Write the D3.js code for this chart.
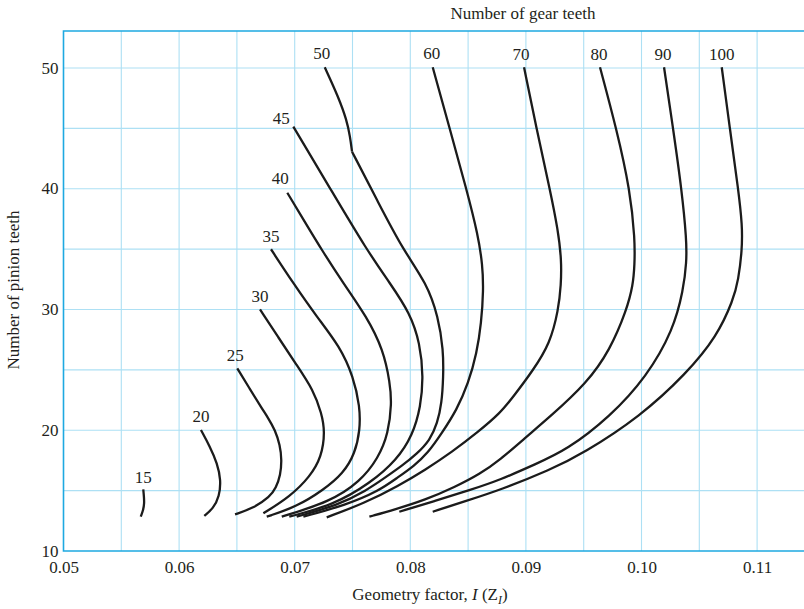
<!DOCTYPE html>
<html><head><meta charset="utf-8">
<script src="https://cdn.jsdelivr.net/npm/d3@7"></script>
<style>
html,body{margin:0;padding:0;background:#fff;}
svg{display:block;font-family:"Liberation Serif","DejaVu Serif",serif;}
</style></head><body>
<svg id="chart" width="804" height="609"></svg>
<script>
// ---------- data (geometry factor I, number of pinion teeth) ----------
const gearTeeth = [15, 20, 25, 30, 35, 40, 45, 50, 60, 70, 80, 90, 100];
const xTicks = [0.05, 0.06, 0.07, 0.08, 0.09, 0.10, 0.11];
const yTicks = [10, 20, 30, 40, 50];

const g15 = [[0.05690,15.11],[0.05696,14.50],[0.05699,13.95],[0.05690,13.40],[0.05668,12.84]];
const g20 = [[0.06189,20.02],[0.06267,18.64],[0.06330,17.26],[0.06362,15.88],[0.06348,14.50],[0.06296,13.54],[0.06218,12.90]];
const g25 = [[0.06503,25.13],[0.06609,23.47],[0.06715,21.82],[0.06772,20.99],[0.06830,20.02],[0.06873,18.78],[0.06888,17.54],[0.06877,16.29],[0.06838,15.22],[0.06786,14.50],[0.06642,13.54],[0.06484,13.04]];
const g30 = [[0.06700,30.01],[0.06858,27.70],[0.07017,25.40],[0.07161,23.33],[0.07233,21.40],[0.07262,19.88],[0.07233,17.81],[0.07133,16.16],[0.06959,14.50],[0.06729,13.12]];
const g35 = [[0.06795,34.99],[0.06988,32.17],[0.07190,29.41],[0.07392,26.92],[0.07507,24.44],[0.07565,21.95],[0.07565,20.02],[0.07522,18.09],[0.07421,16.43],[0.07248,15.05],[0.07017,13.67],[0.06758,12.84]];
const g40 = [[0.06936,39.67],[0.07085,37.30],[0.07234,34.93],[0.07421,32.17],[0.07623,29.40],[0.07767,26.65],[0.07825,23.89],[0.07839,22.23],[0.07810,19.75],[0.07723,17.68],[0.07565,15.74],[0.07306,14.08],[0.06888,12.84]];
const g45 = [[0.06988,45.14],[0.07306,40.04],[0.07623,34.93],[0.07825,32.17],[0.07998,29.69],[0.08084,27.20],[0.08113,24.43],[0.08090,21.95],[0.08021,19.61],[0.07883,17.54],[0.07652,15.61],[0.07334,13.81],[0.06953,12.84]];
const g50a = [[0.07260,50.06],[0.07377,47.62],[0.07450,45.69],[0.07479,44.31],[0.07496,43.07]];
const g50b = [[0.07496,43.07],[0.07716,38.99],[0.07938,34.93],[0.08142,32.17],[0.08242,29.40],[0.08286,26.65],[0.08286,24.43],[0.08272,22.23],[0.08234,20.58],[0.08171,19.19],[0.08056,18.03],[0.07926,17.04],[0.07781,16.07],[0.07617,14.99],[0.07377,13.81],[0.07017,12.84]];
const g60 = [[0.08194,50.06],[0.08344,44.87],[0.08488,39.90],[0.08586,36.17],[0.08625,33.69],[0.08633,31.61],[0.08614,28.86],[0.08575,26.37],[0.08502,23.89],[0.08402,21.68],[0.08272,19.75],[0.08153,18.12],[0.08032,17.04],[0.07885,16.05],[0.07729,14.99],[0.07444,13.81],[0.07075,12.84]];
const g70 = [[0.08984,50.06],[0.09094,44.87],[0.09209,39.90],[0.09278,36.58],[0.09308,34.10],[0.09304,32.03],[0.09281,29.96],[0.09209,27.20],[0.09064,24.99],[0.08891,22.78],[0.08776,21.40],[0.08586,19.86],[0.08361,18.20],[0.08127,16.71],[0.07894,15.38],[0.07608,13.98],[0.07277,12.79]];
const g80 = [[0.09641,50.06],[0.09786,44.87],[0.09901,39.90],[0.09944,35.76],[0.09940,33.69],[0.09927,32.03],[0.09872,29.96],[0.09728,26.65],[0.09526,23.89],[0.09209,21.12],[0.08992,19.36],[0.08776,17.54],[0.08603,16.38],[0.08387,15.30],[0.08127,14.22],[0.07868,13.44],[0.07646,12.84]];
const g90 = [[0.10195,50.06],[0.10275,44.87],[0.10348,39.90],[0.10390,35.76],[0.10390,33.93],[0.10362,31.61],[0.10275,28.30],[0.10045,24.43],[0.09728,21.12],[0.09353,18.36],[0.09084,17.20],[0.08776,15.88],[0.08517,15.05],[0.08214,14.14],[0.07905,13.25]];
const g100 = [[0.10694,50.06],[0.10766,44.87],[0.10838,39.90],[0.10872,37.00],[0.10870,34.93],[0.10838,32.44],[0.10794,30.79],[0.10651,27.75],[0.10391,24.72],[0.09987,21.12],[0.09497,18.09],[0.09209,16.71],[0.08776,15.05],[0.08482,14.14],[0.08194,13.25]];

const curveSegments = [[g15],[g20],[g25],[g30],[g35],[g40],[g45],[g50a,g50b],[g60],[g70],[g80],[g90],[g100]];

// ---------- layout ----------
const W = 804, H = 609;
const svg = d3.select('#chart');
const x = d3.scaleLinear().domain([0.05, 0.11]).range([63.5, 757.1]);
const y = d3.scaleLinear().domain([10, 50]).range([551, 68]);
const yMax = y.invert(31);
const xMax = x.invert(W);
const textCol = '#231f20';
const gridCol = '#ade0f4';
const borderCol = '#1ea9e1';

// grid
const vGrid = d3.range(0.055, 0.1201, 0.005).filter(v => v < xMax);
const hGrid = d3.range(15, 51, 5);
svg.append('g').selectAll('line').data(vGrid).join('line')
  .attr('x1', d => x(d)).attr('x2', d => x(d))
  .attr('y1', y(10)).attr('y2', y(yMax))
  .attr('stroke', gridCol).attr('stroke-width', 1.1);
svg.append('g').selectAll('line').data(hGrid).join('line')
  .attr('x1', x(0.05)).attr('x2', W)
  .attr('y1', d => y(d)).attr('y2', d => y(d))
  .attr('stroke', gridCol).attr('stroke-width', 1.1);

// border
const border = svg.append('g').attr('stroke', borderCol).attr('stroke-width', 1.6).attr('fill', 'none');
border.append('path').attr('d', `M${W},${y(yMax)}H${x(0.05)}V${y(10)}H${W}`);

// axes (labels only)
const fmt = d3.format('.2f');
const ax = svg.append('g').attr('transform', `translate(0,${y(10)})`)
  .call(d3.axisBottom(x).tickValues(xTicks).tickSize(0).tickPadding(10).tickFormat(fmt));
const ay = svg.append('g').attr('transform', `translate(${x(0.05)},0)`)
  .call(d3.axisLeft(y).tickValues(yTicks).tickSize(0).tickPadding(5));
[ax, ay].forEach(a => {
  a.select('.domain').remove();
  a.selectAll('text').attr('font-family', '"Liberation Serif", serif')
    .attr('font-size', 17).attr('fill', textCol);
});
ay.selectAll('text').attr('dy', '0.3em');

// curves
const line = d3.line().x(d => x(d[0])).y(d => y(d[1])).curve(d3.curveBasis);
const cg = svg.append('g').attr('fill', 'none').attr('stroke', '#1b1b1b')
  .attr('stroke-width', 2.3).attr('stroke-linecap', 'butt').attr('stroke-linejoin', 'round');
curveSegments.forEach(segs => segs.forEach(s => cg.append('path').attr('d', line(s))));

// curve labels (placed just above each curve's first point)
const labelDx = [0, 0, -2, 0, 0, -7, -12, -3, -1, -3, -1, -1, 0];
const labelDy = [-6, -8, -7, -7, -7, -9, -3, -8, -8, -7, -7, -7, -7];
svg.append('g').selectAll('text').data(gearTeeth).join('text')
  .attr('x', (d, i) => x(curveSegments[i][0][0][0]) + labelDx[i])
  .attr('y', (d, i) => y(curveSegments[i][0][0][1]) + labelDy[i])
  .attr('text-anchor', 'middle').attr('font-size', 17).attr('fill', textCol)
  .text(d => d);

// titles
svg.append('text').attr('x', 523).attr('y', 19).attr('text-anchor', 'middle')
  .attr('font-size', 17).attr('fill', textCol).text('Number of gear teeth');

const xt = svg.append('text').attr('x', 430).attr('y', 600).attr('text-anchor', 'middle')
  .attr('font-size', 17).attr('fill', textCol);
xt.append('tspan').text('Geometry factor, ');
xt.append('tspan').attr('font-style', 'italic').text('I');
xt.append('tspan').text(' (Z');
xt.append('tspan').attr('font-style', 'italic').attr('font-size', 12).attr('dy', 4).text('I');
xt.append('tspan').attr('dy', -4).text(')');

svg.append('text').attr('transform', `translate(19,290) rotate(-90)`)
  .attr('text-anchor', 'middle').attr('font-size', 17).attr('fill', textCol)
  .text('Number of pinion teeth');
</script>
</body></html>
